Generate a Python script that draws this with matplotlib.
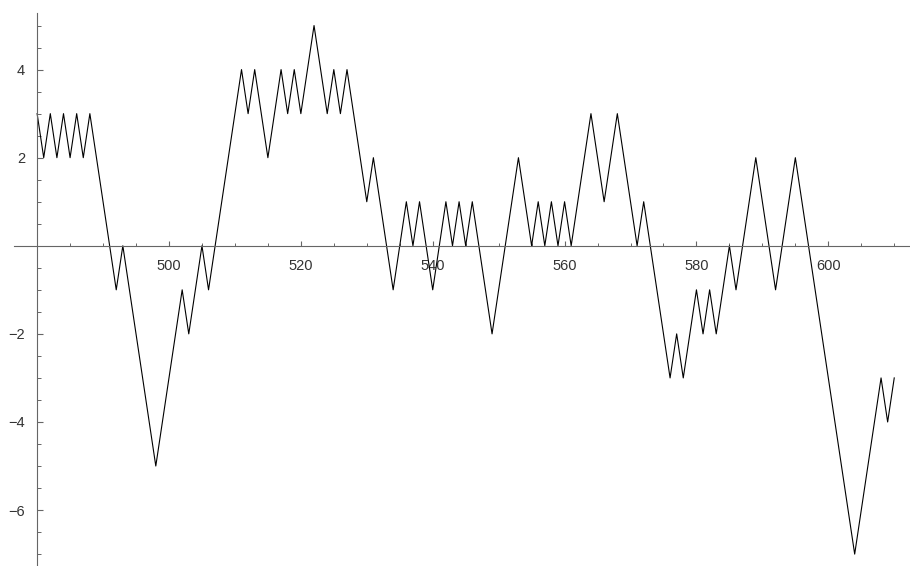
import matplotlib.pyplot as plt

# random walk values, one per step starting at n = 480
primer_paso = 480
valores = [3, 2, 3, 2, 3, 2, 3, 2, 3, 2, 1, 0, -1, 0, -1, -2, -3, -4, -5, -4,
           -3, -2, -1, -2, -1, 0, -1, 0, 1, 2, 3, 4, 3, 4, 3, 2, 3, 4, 3, 4,
           3, 4, 5, 4, 3, 4, 3, 4, 3, 2, 1, 2, 1, 0, -1, 0, 1, 0, 1, 0,
           -1, 0, 1, 0, 1, 0, 1, 0, -1, -2, -1, 0, 1, 2, 1, 0, 1, 0, 1, 0,
           1, 0, 1, 2, 3, 2, 1, 2, 3, 2, 1, 0, 1, 0, -1, -2, -3, -2, -3, -2,
           -1, -2, -1, -2, -1, 0, -1, 0, 1, 2, 1, 0, -1, 0, 1, 2, 1, 0, -1, -2,
           -3, -4, -5, -6, -7, -6, -5, -4, -3, -4, -3]
pasos = list(range(primer_paso, primer_paso + len(valores)))

etiquetas_x = [500, 520, 540, 560, 580, 600]
etiquetas_y = [-6, -4, -2, 2, 4]

plt.rcParams['font.family'] = ['Liberation Sans', 'DejaVu Sans']

fig = plt.figure(figsize=(9.1, 5.66), dpi=100)
ax = fig.add_axes([0, 0, 1, 1])
ax.plot(pasos, valores, color='black', linewidth=0.8)

ax.set_xlim(474.37, 612.39)
ax.set_ylim(-7.27, 5.58)

gris = '#666666'
for lado in ['top', 'right']:
    ax.spines[lado].set_visible(False)
ax.spines['left'].set_position(('data', 480))
ax.spines['bottom'].set_position(('data', 0))
ax.spines['left'].set_bounds(-7.27, 5.285)
ax.spines['bottom'].set_bounds(476.5, 612.39)
for lado in ['left', 'bottom']:
    ax.spines[lado].set_color(gris)
    ax.spines[lado].set_linewidth(0.8)

ax.set_xticks(etiquetas_x)
ax.set_yticks(etiquetas_y)
# minor ticks only inside the drawn axis lines
ax.set_xticks([v for v in range(485, 611, 5)], minor=True)
ax.set_yticks([v / 2 for v in range(-14, 11)], minor=True)

ax.tick_params(axis='x', which='major', direction='in', length=3.4, width=0.8,
               color=gris, labelsize=10.5, labelcolor='#333333', pad=9.5)
ax.tick_params(axis='x', which='minor', direction='in', length=2.2, width=0.7, color=gris)
ax.tick_params(axis='y', which='major', direction='in', length=4.3, width=0.8,
               color=gris, labelsize=10.5, labelcolor='#333333', pad=8.6)
ax.tick_params(axis='y', which='minor', direction='in', length=2.9, width=0.7, color=gris)

fig.savefig('out.png', dpi=100)
